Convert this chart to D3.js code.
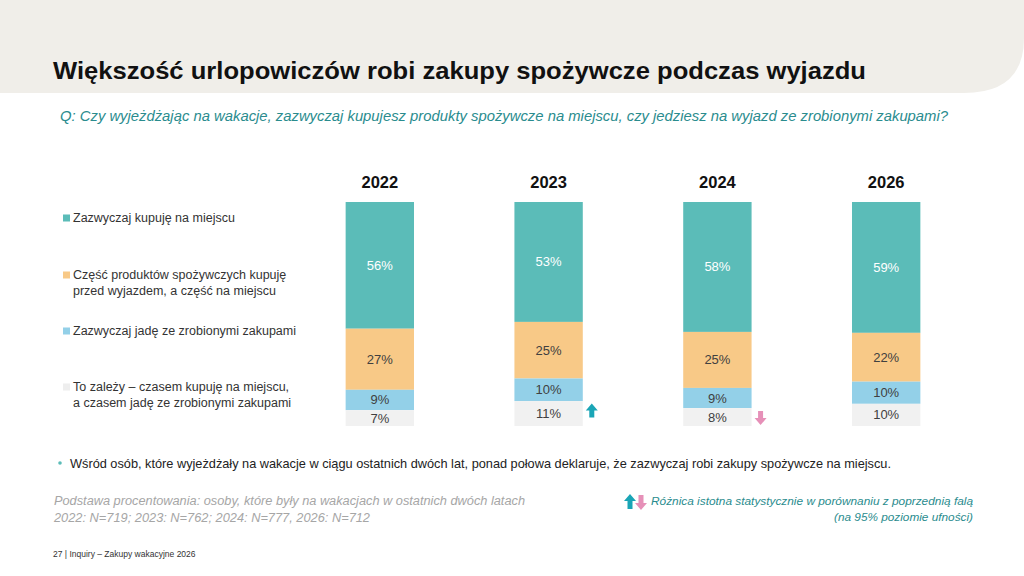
<!DOCTYPE html>
<html>
<head>
<meta charset="utf-8">
<script src="https://cdn.jsdelivr.net/npm/d3@7"></script>
<style>
  body { margin: 0; background: #fff; }
  svg { display: block; font-family: "Liberation Sans", Arial, sans-serif; }
</style>
</head>
<body>
<div id="chart"></div>
<script>
// data
var years = ["2022", "2023", "2024", "2026"];
var categories = ["miejsce", "czesc", "zakupy", "zalezy"];
var legendLabels = [
    ["Zazwyczaj kupuję na miejscu"],
    ["Część produktów spożywczych kupuję", "przed wyjazdem, a część na miejscu"],
    ["Zazwyczaj jadę ze zrobionymi zakupami"],
    ["To zależy – czasem kupuję na miejscu,", "a czasem jadę ze zrobionymi zakupami"]
];
var miejsce = [56, 53, 58, 59];
var czesc   = [27, 25, 25, 22];
var zakupy  = [9, 10, 9, 10];
var zalezy  = [7, 11, 8, 10];
// significance vs previous wave (only on "to zależy")
var signif = [0, 1, -1, 0];

var colors = ["#5bbcb8", "#f8c987", "#93d0e8", "#f1f1f1"];
var textColors = ["#ffffff", "#404040", "#404040", "#404040"];

var W = 1024, H = 576;
var svg = d3.select("#chart").append("svg")
    .attr("width", W)
    .attr("height", H);

// header band with rounded lower-right corner
svg.append("path")
    .attr("d", "M0,0 H1024 V38 Q1024,93 964,93 H0 Z")
    .attr("fill", "#f0eee9");

svg.append("text")
    .attr("x", 53).attr("y", 79)
    .attr("font-size", 24.5)
    .attr("font-weight", "bold")
    .attr("fill", "#111")
    .attr("textLength", 813)
    .attr("lengthAdjust", "spacingAndGlyphs")
    .text("Większość urlopowiczów robi zakupy spożywcze podczas wyjazdu");

svg.append("text")
    .attr("x", 60).attr("y", 121)
    .attr("font-size", 14)
    .attr("font-style", "italic")
    .attr("fill", "#2a8c8e")
    .attr("textLength", 888)
    .attr("lengthAdjust", "spacingAndGlyphs")
    .text("Q: Czy wyjeżdżając na wakacje, zazwyczaj kupujesz produkty spożywcze na miejscu, czy jedziesz na wyjazd ze zrobionymi zakupami?");

// build table for stack
var table = years.map(function(y, i) {
    return { year: y, miejsce: miejsce[i], czesc: czesc[i], zakupy: zakupy[i], zalezy: zalezy[i] };
});
var stack = d3.stack().keys(categories).offset(d3.stackOffsetExpand);
var series = stack(table);

var xScale = d3.scaleBand()
    .domain(years)
    .range([295, 971])
    .paddingInner(0.595)
    .paddingOuter(0.3);

var yScale = d3.scaleLinear()
    .domain([0, 1])
    .range([202, 426]);

var g = svg.append("g");

// year labels
g.selectAll("text.year")
    .data(years)
    .enter()
    .append("text")
    .attr("class", "year")
    .attr("x", function(d) { return xScale(d) + xScale.bandwidth() / 2; })
    .attr("y", 188)
    .attr("text-anchor", "middle")
    .attr("font-size", 16.5)
    .attr("font-weight", "bold")
    .attr("fill", "#111")
    .text(function(d) { return d; });

var layers = g.selectAll("g.layer")
    .data(series)
    .enter()
    .append("g")
    .attr("class", "layer");

layers.selectAll("rect")
    .data(function(d) { return d; })
    .enter()
    .append("rect")
    .attr("x", function(d) { return xScale(d.data.year); })
    .attr("y", function(d) { return yScale(d[0]); })
    .attr("width", xScale.bandwidth())
    .attr("height", function(d) { return yScale(d[1]) - yScale(d[0]); })
    .attr("fill", function(d) { return colors[categories.indexOf(d3.select(this.parentNode).datum().key)]; });

layers.each(function(s, si) {
    d3.select(this).selectAll("text")
        .data(s)
        .enter()
        .append("text")
        .attr("x", function(d) { return xScale(d.data.year) + xScale.bandwidth() / 2; })
        .attr("y", function(d) { return (yScale(d[0]) + yScale(d[1])) / 2 + 4.5; })
        .attr("text-anchor", "middle")
        .attr("font-size", 13)
        .attr("fill", textColors[si])
        .text(function(d) { return d.data[s.key] + "%"; });
});

// significance arrows
function arrowPath(cx, top, h, up) {
    var w = 12, sw = 5, head = 7;
    if (up) {
        return "M" + cx + "," + top +
            " L" + (cx + w / 2) + "," + (top + head) +
            " L" + (cx + sw / 2) + "," + (top + head) +
            " L" + (cx + sw / 2) + "," + (top + h) +
            " L" + (cx - sw / 2) + "," + (top + h) +
            " L" + (cx - sw / 2) + "," + (top + head) +
            " L" + (cx - w / 2) + "," + (top + head) + " Z";
    }
    return "M" + cx + "," + (top + h) +
        " L" + (cx + w / 2) + "," + (top + h - head) +
        " L" + (cx + sw / 2) + "," + (top + h - head) +
        " L" + (cx + sw / 2) + "," + top +
        " L" + (cx - sw / 2) + "," + top +
        " L" + (cx - sw / 2) + "," + (top + h - head) +
        " L" + (cx - w / 2) + "," + (top + h - head) + " Z";
}

var last = series[series.length - 1];
last.forEach(function(d, i) {
    if (!signif[i]) return;
    var cx = xScale(d.data.year) + xScale.bandwidth() + 9;
    var mid = (yScale(d[0]) + yScale(d[1])) / 2;
    g.append("path")
        .attr("d", arrowPath(cx, mid - 8 + (signif[i] < 0 ? 2 : -2), 14, signif[i] > 0))
        .attr("fill", signif[i] > 0 ? "#1aa5b6" : "#e690b8");
});

// legend
var legendY = [222, 279, 335, 391];
var legend = svg.append("g");
legendLabels.forEach(function(lines, i) {
    legend.append("rect")
        .attr("x", 63).attr("y", legendY[i] - 7.5)
        .attr("width", 7).attr("height", 7)
        .attr("fill", colors[i] === "#f1f1f1" ? "#eeeeee" : colors[i]);
    lines.forEach(function(t, j) {
        legend.append("text")
            .attr("x", 73).attr("y", legendY[i] + j * 15.5)
            .attr("font-size", 12.5)
            .attr("fill", "#333")
            .text(t);
    });
});

// bullet note
svg.append("circle")
    .attr("cx", 60).attr("cy", 463).attr("r", 1.8)
    .attr("fill", "#5bbcb8");
svg.append("text")
    .attr("x", 70).attr("y", 468)
    .attr("font-size", 13)
    .attr("fill", "#222")
    .attr("textLength", 821)
    .attr("lengthAdjust", "spacingAndGlyphs")
    .text("Wśród osób, które wyjeżdżały na wakacje w ciągu ostatnich dwóch lat, ponad połowa deklaruje, że zazwyczaj robi zakupy spożywcze na miejscu.");

// base note
var baseLines = ["Podstawa procentowania: osoby, które były na wakacjach w ostatnich dwóch latach",
                 "2022: N=719; 2023: N=762; 2024: N=777, 2026: N=712"];
var baseWidths = [471, 316];
baseLines.forEach(function(t, j) {
    svg.append("text")
        .attr("x", 54).attr("y", 505 + j * 17)
        .attr("font-size", 12.5)
        .attr("font-style", "italic")
        .attr("fill", "#a6a6a6")
        .attr("textLength", baseWidths[j])
        .attr("lengthAdjust", "spacingAndGlyphs")
        .text(t);
});

// significance legend
svg.append("path").attr("d", arrowPath(630, 494, 15, true)).attr("fill", "#1aa5b6");
svg.append("path").attr("d", arrowPath(641, 495, 15, false)).attr("fill", "#e690b8");
var sigLines = ["Różnica istotna statystycznie w porównaniu z poprzednią falą", "(na 95% poziomie ufności)"];
var sigWidths = [322, 139];
sigLines.forEach(function(t, j) {
    svg.append("text")
        .attr("x", 973).attr("y", 505 + j * 16)
        .attr("text-anchor", "end")
        .attr("font-size", 11)
        .attr("font-style", "italic")
        .attr("fill", "#2a8c8e")
        .attr("textLength", sigWidths[j])
        .attr("lengthAdjust", "spacingAndGlyphs")
        .text(t);
});

svg.append("text")
    .attr("x", 53).attr("y", 557)
    .attr("font-size", 8.5)
    .attr("fill", "#333")
    .text("27 | Inquiry – Zakupy wakacyjne 2026");
</script>
</body>
</html>
